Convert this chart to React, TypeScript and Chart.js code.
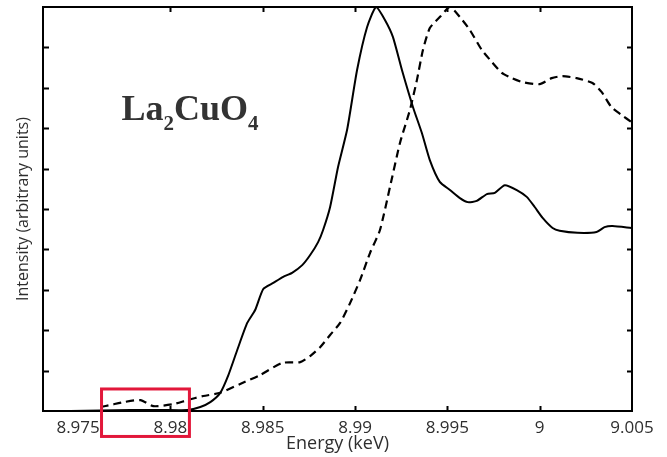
import { useEffect, useRef } from 'react';
import { Chart, registerables } from 'chart.js';

Chart.register(...registerables);

// La2CuO4 Cu K-edge spectra: energy (keV) vs. normalised intensity
const solidEnergy = [
  8.97314, 8.97459, 8.97622, 8.97784, 8.97946, 8.98092, 8.98162, 8.98216, 8.9827, 8.98314,
  8.98362, 8.98416, 8.98459, 8.98503, 8.98557, 8.98611, 8.98659, 8.98714, 8.98757, 8.988,
  8.98827, 8.98865, 8.98908, 8.98957, 8.99011, 8.99065, 8.99114, 8.99162, 8.99205, 8.99254,
  8.99314, 8.99362, 8.99405, 8.99459, 8.99514, 8.99568, 8.99611, 8.99659, 8.99714, 8.99757,
  8.99811, 8.99876, 8.9993, 8.99973, 9.00016, 9.0007, 9.00108, 9.00205, 9.00308, 9.00351,
  9.00395, 9.00497,
];
const solidIntensity = [
  0, 0, 0.01, 0.025, 0.025, 0.025, 0.1, 0.22, 0.45, 0.89,
  1.51, 2.18, 2.5, 3.02, 3.17, 3.32, 3.42, 3.61, 3.86, 4.18,
  4.48, 5.05, 6.04, 6.96, 8.44, 9.5, 10.0, 9.68, 9.26, 8.44,
  7.52, 6.88, 6.21, 5.67, 5.47, 5.27, 5.17, 5.2, 5.37, 5.4,
  5.59, 5.47, 5.3, 5.05, 4.78, 4.53, 4.46, 4.41, 4.43, 4.55,
  4.58, 4.53,
];

const dashedEnergy = [
  8.97622, 8.97676, 8.97746, 8.97838, 8.97908, 8.98016, 8.98092, 8.98178, 8.9827, 8.98378,
  8.98486, 8.98605, 8.98703, 8.98757, 8.98811, 8.98865, 8.98919, 8.98973, 8.99027, 8.99081,
  8.99135, 8.99189, 8.99243, 8.99297, 8.99335, 8.99368, 8.99405, 8.99459, 8.99514, 8.99568,
  8.99622, 8.99686, 8.99741, 8.99795, 8.99849, 8.99908, 9.0, 9.00065, 9.00124, 9.002,
  9.00286, 9.00335, 9.00389, 9.00443, 9.00497,
];
const dashedIntensity = [
  0.1, 0.15, 0.22, 0.27, 0.12, 0.17, 0.27, 0.37, 0.45, 0.67,
  0.89, 1.19, 1.21, 1.36, 1.58, 1.88, 2.18, 2.67, 3.24, 3.91,
  4.48, 5.54, 6.63, 7.45, 8.19, 8.94, 9.48, 9.75, 10.0, 9.75,
  9.43, 8.94, 8.64, 8.37, 8.24, 8.14, 8.09, 8.24, 8.29, 8.24,
  8.12, 7.9, 7.52, 7.33, 7.15,
];

const energyRange = [8.9731, 9.005];
const intensityRange = [0, 10];

const xTickValues = [8.975, 8.98, 8.985, 8.99, 8.995, 9.0, 9.005];
const xTickLabels = ['8.975', '8.98', '8.985', '8.99', '8.995', '9', '9.005'];
const xTickMarks = [8.98, 8.985, 8.99, 8.995, 9.0];
const yTickMarks = [1, 2, 3, 4, 5, 6, 7, 8, 9];

// pre-edge region that is marked with a frame
const preEdgeEnergy = [8.97627, 8.98103];
const preEdgeIntensity = [-0.63, 0.545];

// compound name, written as text runs (subscript flag)
const compoundText = ['La', '2', 'CuO', '4'];
const compoundSubscript = [false, true, false, true];
const compoundAnchor = [8.97735, 7.2];

const frameAndAnnotations = {
  id: 'frameAndAnnotations',
  afterDraw(chart: Chart) {
    const { ctx, chartArea } = chart;
    const xs = chart.scales.x;
    const ys = chart.scales.y;
    const { left, right, top, bottom } = chartArea;
    ctx.save();

    // axis frame
    ctx.strokeStyle = '#000';
    ctx.lineWidth = 2;
    ctx.strokeRect(left, top, right - left, bottom - top);

    // inward tick marks
    ctx.beginPath();
    for (const v of xTickMarks) {
      const px = Math.round(xs.getPixelForValue(v)) + 0.5;
      ctx.moveTo(px, bottom);
      ctx.lineTo(px, bottom - 5);
      ctx.moveTo(px, top);
      ctx.lineTo(px, top + 5);
    }
    for (const v of yTickMarks) {
      const py = Math.round(ys.getPixelForValue(v)) + 0.5;
      ctx.moveTo(left, py);
      ctx.lineTo(left + 6, py);
      ctx.moveTo(right, py);
      ctx.lineTo(right - 5, py);
    }
    ctx.lineWidth = 2;
    ctx.stroke();

    // highlight frame round the pre-edge
    const bx1 = xs.getPixelForValue(preEdgeEnergy[0]);
    const bx2 = xs.getPixelForValue(preEdgeEnergy[1]);
    const by1 = ys.getPixelForValue(preEdgeIntensity[1]);
    const by2 = ys.getPixelForValue(preEdgeIntensity[0]);
    ctx.strokeStyle = '#e2173a';
    ctx.lineWidth = 3;
    ctx.strokeRect(bx1, by1, bx2 - bx1, by2 - by1);

    // compound label
    let tx = xs.getPixelForValue(compoundAnchor[0]);
    const ty = ys.getPixelForValue(compoundAnchor[1]);
    ctx.fillStyle = '#333';
    ctx.textBaseline = 'alphabetic';
    ctx.textAlign = 'left';
    compoundText.forEach((part, i) => {
      const sub = compoundSubscript[i];
      ctx.font = sub ? 'bold 21px "Liberation Serif"' : 'bold 36px "Liberation Serif"';
      ctx.fillText(part, tx, sub ? ty + 10 : ty);
      tx += ctx.measureText(part).width;
    });

    ctx.restore();
  },
};

export default function App() {
  const canvasRef = useRef<HTMLCanvasElement | null>(null);

  useEffect(() => {
    document.body.style.margin = '0';
    const canvas = canvasRef.current;
    if (!canvas) return;

    const chart = new Chart(canvas, {
      type: 'line',
      data: {
        datasets: [
          {
            label: 'solid',
            data: solidEnergy.map((x, i) => ({ x, y: solidIntensity[i] })),
            borderColor: '#000',
            borderWidth: 2,
            pointRadius: 0,
            tension: 0.2,
            fill: false,
          },
          {
            label: 'dashed',
            data: dashedEnergy.map((x, i) => ({ x, y: dashedIntensity[i] })),
            borderColor: '#000',
            borderWidth: 2.2,
            borderDash: [8, 5],
            pointRadius: 0,
            tension: 0.2,
            fill: false,
          },
        ],
      },
      options: {
        responsive: false,
        animation: false,
        devicePixelRatio: 1,
        layout: { padding: { top: 7, right: 35, left: 0, bottom: 0 } },
        plugins: {
          legend: { display: false },
          tooltip: { enabled: false },
        },
        scales: {
          x: {
            type: 'linear',
            min: energyRange[0],
            max: energyRange[1],
            afterBuildTicks: (scale: any) => {
              scale.ticks = xTickValues.map((value) => ({ value }));
            },
            afterFit: (scale: any) => {
              scale.height = 46;
            },
            ticks: {
              autoSkip: false,
              maxRotation: 0,
              padding: 7,
              color: '#2e2e2e',
              font: { family: '"Open Sans"', size: 17 },
              callback: (value: any) => {
                const idx = xTickValues.findIndex((v) => Math.abs(v - Number(value)) < 1e-7);
                return idx >= 0 ? xTickLabels[idx] : '';
              },
            },
            grid: { display: false, drawTicks: false },
            border: { display: false },
            title: {
              display: true,
              text: 'Energy (keV)',
              color: '#2e2e2e',
              font: { family: '"Open Sans"', size: 18 },
              padding: { top: 0, bottom: 2 },
            },
          },
          y: {
            type: 'linear',
            min: intensityRange[0],
            max: intensityRange[1],
            afterFit: (scale: any) => {
              scale.width = 43;
            },
            ticks: { display: false },
            grid: { display: false, drawTicks: false },
            border: { display: false },
            title: {
              display: true,
              text: 'Intensity (arbitrary units)',
              color: '#2e2e2e',
              font: { family: '"Open Sans"', size: 16 },
              padding: { top: 14, bottom: 0 },
            },
          },
        },
      },
      plugins: [frameAndAnnotations],
    });

    return () => chart.destroy();
  }, []);

  return (
    <div style={{ width: 667, height: 457 }}>
      <canvas ref={canvasRef} width={667} height={457} style={{ display: 'block' }} />
    </div>
  );
}
